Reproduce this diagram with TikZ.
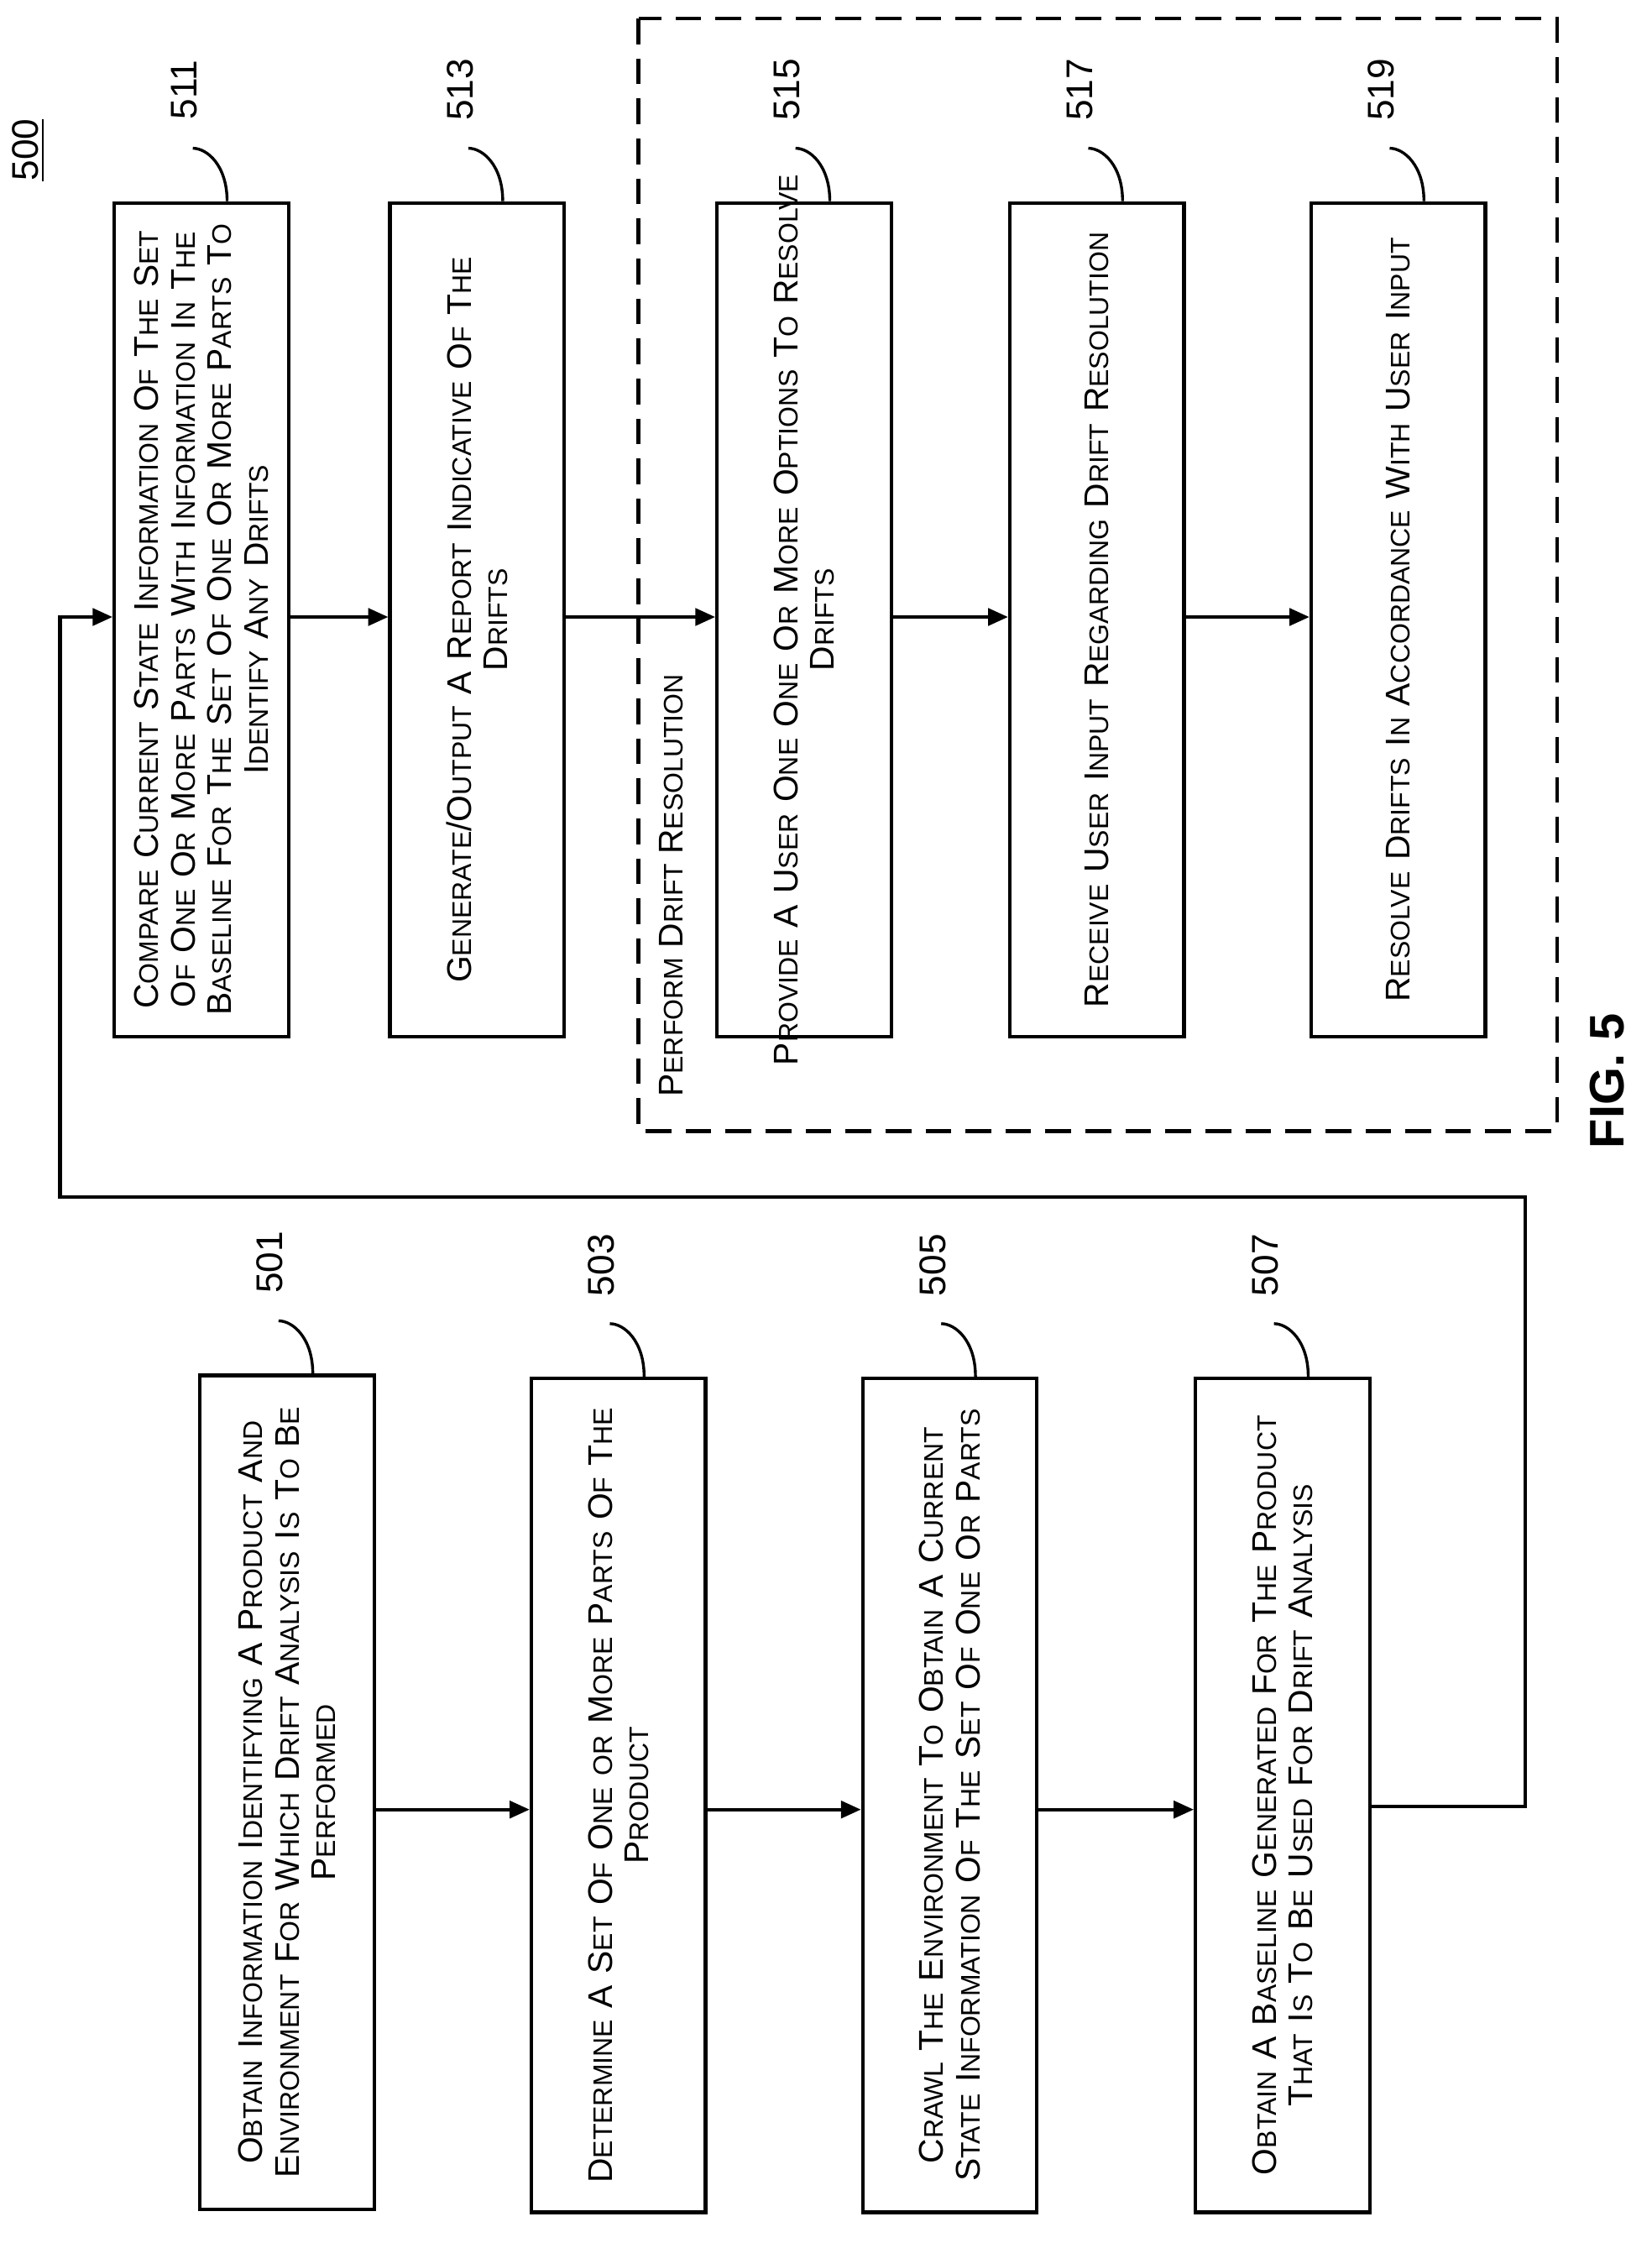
\documentclass[tikz,border=0pt]{standalone}
\usepackage{fontspec}
\setmainfont{Liberation Sans}
\usetikzlibrary{arrows.meta}
\ExplSyntaxOn
\cs_new:Npn \__sc_char:N #1
  { \int_compare:nNnTF {`#1} > {96} { {\fontsize{9.4}{12}\selectfont \text_uppercase:n {#1}} } {#1} }
\NewDocumentCommand\SC{m}
  {
    \seq_set_split:Nnn \l_tmpa_seq {~} {#1}
    \seq_map_indexed_inline:Nn \l_tmpa_seq
      { \int_compare:nNnT {##1} > {1} {~} \tl_map_function:nN {##2} \__sc_char:N }
  }
\ExplSyntaxOff
\tikzset{
  box/.style={draw,line width=1.2pt,rotate=90,minimum width=292pt,minimum height=61pt,
    text width=282pt,align=center,font=\fontsize{12}{12.8}\selectfont,inner sep=0pt},
  arr/.style={-{Triangle[length=7pt,width=6pt]},line width=1.2pt},
  lbl/.style={rotate=90,font=\fontsize{13}{13}\selectfont},
}
\newcommand\leader[3]{% node, xoffset, label
  \draw[line width=1pt] ([xshift=#2]#1.east) .. controls +(0,12.5pt) and +(5pt,0) .. ++(-12pt,18.5pt);
  \node[lbl] at ([xshift=#2-15pt,yshift=39pt]#1.east) {#3};}
\begin{document}
\begin{tikzpicture}[x=0.5pt,y=-0.5pt]
\useasboundingbox (0,0) rectangle (1156.5,1574);
\node[box] (b501) at (201,1255) {\SC{Obtain Information Identifying A Product And}\\\SC{Environment For Which Drift Analysis Is To Be}\\\SC{Performed}};
\node[box] (b503) at (433,1257) {\SC{Determine A Set Of One or More Parts Of The}\\\SC{Product}};
\node[box] (b505) at (665,1257) {\SC{Crawl The Environment To Obtain A Current}\\\SC{State Information Of The  Set Of One Or Parts}};
\node[box] (b507) at (898,1257) {\SC{Obtain A Baseline Generated For The Product}\\\SC{That Is To Be Used For Drift Analysis}};
\node[box] (b511) at (141,434) {\SC{Compare Current State Information Of The Set}\\\SC{Of One Or More Parts With Information In The}\\\SC{Baseline For The Set Of One Or More Parts To}\\\SC{Identify Any Drifts}};
\node[box] (b513) at (334,434) {\SC{Generate/Output A Report  Indicative Of The}\\\SC{Drifts}};
\node[box] (b515) at (563,434) {\makebox[282pt]{\SC{Provide A User One One Or More Options To Resolve}}\\\SC{Drifts}};
\node[box] (b517) at (768,434) {\SC{Receive User Input Regarding Drift Resolution}};
\node[box] (b519) at (979,434) {\SC{Resolve Drifts In Accordance With User Input}};
\draw[dashed,dash pattern=on 9pt off 5pt,line width=1.2pt] (447,13) rectangle (1090,792);
\node[lbl,font=\fontsize{12}{12}\selectfont,anchor=west] (pdr) at (470,775) {\SC{Perform Drift Resolution}};
\draw[arr] (b501.south) ++(0,12) coordinate (s1) -- (s1 -| b503.north);
\draw[arr] (b503.south) ++(0,10) coordinate (s2) -- (s2 -| b505.north);
\draw[arr] (b505.south) ++(0,10) coordinate (s3) -- (s3 -| b507.north);
\draw[arr] (b511.south) ++(0,-2) coordinate (s4) -- (s4 -| b513.north);
\draw[arr] (b513.south) ++(0,-2) coordinate (s5) -- (s5 -| b515.north);
\draw[arr] (b515.south) ++(0,-2) coordinate (s6) -- (s6 -| b517.north);
\draw[arr] (b517.south) ++(0,-2) coordinate (s7) -- (s7 -| b519.north);
\coordinate (f1) at (1068,1265);
\coordinate (f2) at (1068,838);
\coordinate (f3) at (42,838);
\coordinate (f4) at (42,432);
\draw[arr] (b507.south |- f1) -- (f1) -- (f2) -- (f3) -- (f4) -- (f4 -| b511.north);
\leader{b501}{9pt}{501}
\leader{b503}{9pt}{503}
\leader{b505}{9pt}{505}
\leader{b507}{9pt}{507}
\leader{b511}{9pt}{511}
\leader{b513}{9pt}{513}
\leader{b515}{9pt}{515}
\leader{b517}{9pt}{517}
\leader{b519}{9pt}{519}
\node[lbl] (n500) at (20,105) {\underline{500}};
\node[lbl,font=\bfseries\fontsize{17}{17}\selectfont] (fig) at (1125,757) {FIG. 5};
\end{tikzpicture}
\end{document}
